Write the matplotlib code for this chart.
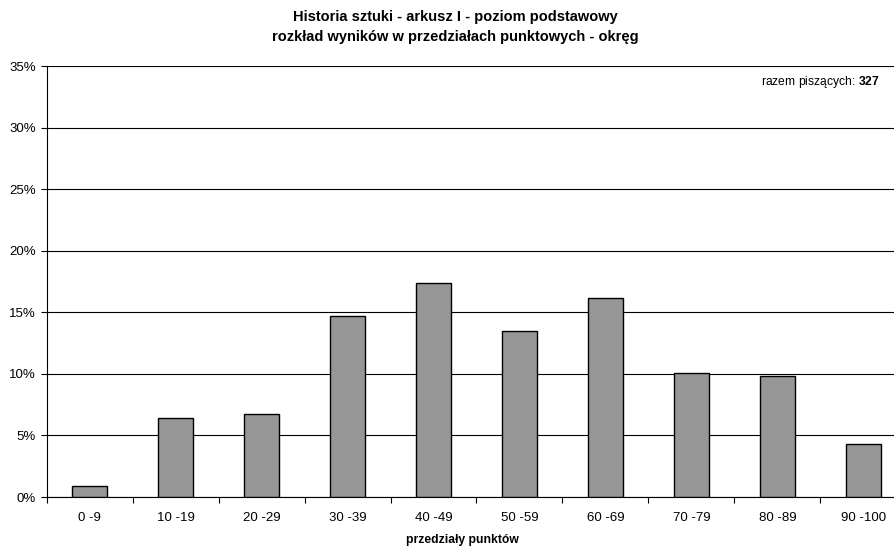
import matplotlib.pyplot as plt
import numpy as np

# Dane: przedziały punktowe i odsetek piszących (%)
przedzialy = ['0 -9', '10 -19', '20 -29', '30 -39', '40 -49',
              '50 -59', '60 -69', '70 -79', '80 -89', '90 -100']
procenty = [0.9, 6.4, 6.7, 14.7, 17.4, 13.5, 16.2, 10.1, 9.8, 4.3]
razem = 327

plt.rcParams['font.family'] = ['Liberation Sans', 'DejaVu Sans']
plt.rcParams['mathtext.fontset'] = 'custom'
plt.rcParams['mathtext.rm'] = 'Liberation Sans'
plt.rcParams['mathtext.bf'] = 'Liberation Sans:bold'

fig = plt.figure(figsize=(8.95, 5.47), dpi=100)
ax = fig.add_axes([46.7 / 895, 1 - 497 / 547, (906.3 - 46.7) / 895, (497 - 66) / 547])

x = np.arange(len(przedzialy))
ax.bar(x, procenty, width=0.4, color='#969696', edgecolor='black', linewidth=1.0, zorder=3)

ax.set_xlim(-0.5, len(przedzialy) - 0.5)
ax.set_ylim(0, 35)
ax.set_yticks(np.arange(0, 36, 5))
ax.set_yticklabels([f'{v}%' for v in range(0, 36, 5)], fontsize=9.5)
ax.yaxis.grid(True, color='black', linewidth=0.8, zorder=0)

# etykiety kategorii w środku, kreski na granicach
ax.set_xticks(x)
ax.set_xticklabels(przedzialy, fontsize=9.5)
ax.tick_params(axis='x', which='major', length=0, pad=11)
ax.set_xticks(np.arange(-0.5, len(przedzialy), 1), minor=True)
ax.tick_params(axis='x', which='minor', length=4, direction='out', width=0.8)
ax.tick_params(axis='y', length=4, direction='out', width=0.8, pad=4)

for s in ['top', 'right']:
    ax.spines[s].set_visible(False)
ax.spines['left'].set_linewidth(0.8)
ax.spines['bottom'].set_linewidth(0.8)

fig.text(455 / 895, 1 - 17 / 547, 'Historia sztuki - arkusz I - poziom podstawowy',
         ha='center', va='center', fontsize=10.5, fontweight='bold')
fig.text(455 / 895, 1 - 37 / 547, 'rozkład wyników w przedziałach punktowych - okręg',
         ha='center', va='center', fontsize=10.5, fontweight='bold')
fig.text(462 / 895, 1 - 540 / 547, 'przedziały punktów',
         ha='center', va='center', fontsize=8.7, fontweight='bold')

fig.text(880 / 895, 1 - 82 / 547, f'razem piszących: $\\mathbf{{{razem}}}$',
         ha='right', va='center', fontsize=8.7)

plt.savefig('out.png', dpi=100)
